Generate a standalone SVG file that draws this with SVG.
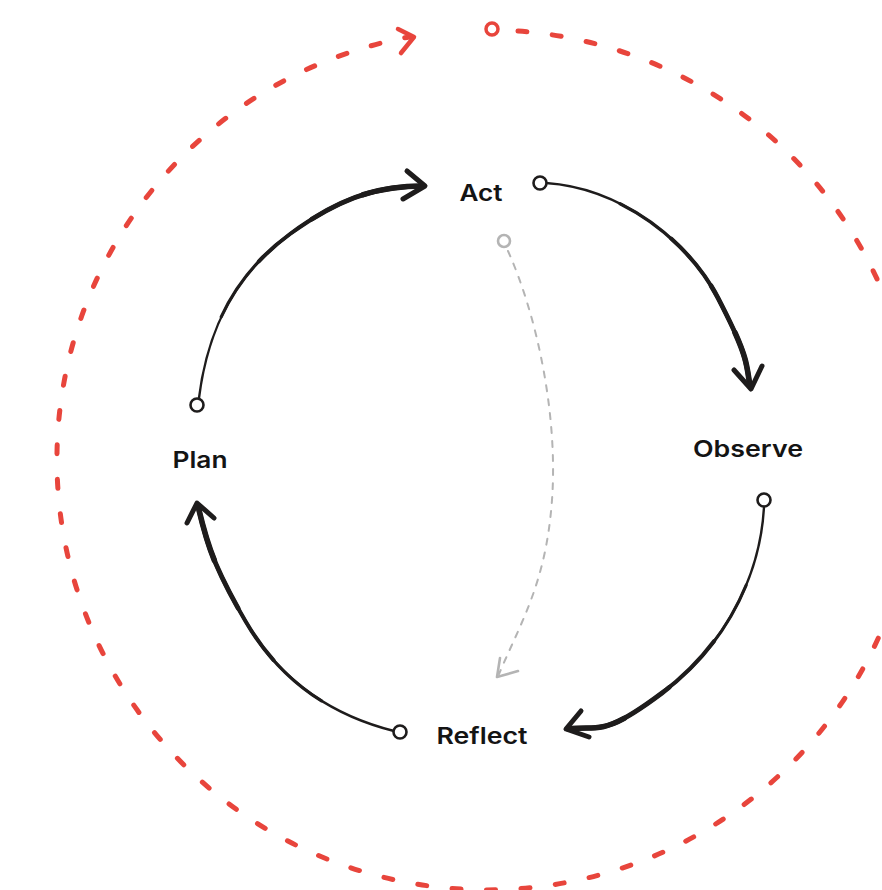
<svg xmlns="http://www.w3.org/2000/svg" xmlns:xlink="http://www.w3.org/1999/xlink" width="882" height="890" viewBox="0 0 882 890">
  <style>
    .label { font-family: Inter, "Open Sans", "Liberation Sans", sans-serif; font-weight: 600; font-size: 22.5px; fill: #141414; text-anchor: middle; }
    .ink { fill: none; stroke: #1e1c1c; stroke-linecap: round; stroke-linejoin: round; }
    .w1 { stroke-width: 2.4; }
    .w2 { stroke-width: 3.2; stroke-dasharray: 75 25; stroke-dashoffset: 75; }
    .w3 { stroke-width: 4; stroke-dasharray: 55 45; stroke-dashoffset: 55; }
    .w4 { stroke-width: 4.8; stroke-dasharray: 35 65; stroke-dashoffset: 35; }
    .w5 { stroke-width: 5.6; stroke-dasharray: 18 82; stroke-dashoffset: 18; }
    .head { fill: none; stroke: #1e1c1c; stroke-width: 5; stroke-linecap: round; stroke-linejoin: round; }
    .port { fill: #fff; stroke: #1e1c1c; stroke-width: 2.6; }
    .loop { fill: none; stroke: #e8453c; stroke-width: 5; stroke-linecap: round; stroke-dasharray: 9 25.5; }
    .loop-head { fill: none; stroke: #e8453c; stroke-width: 4.5; stroke-linecap: round; stroke-linejoin: round; }
    .loop-port { fill: #fff; stroke: #e8453c; stroke-width: 3.5; }
    .skip { fill: none; stroke: #b4b4b4; stroke-width: 2; stroke-linecap: round; stroke-dasharray: 6 8; }
    .skip-head { fill: none; stroke: #b4b4b4; stroke-width: 2.6; stroke-linecap: round; stroke-linejoin: round; }
    .skip-port { fill: #fff; stroke: #b4b4b4; stroke-width: 2.6; }
  </style>
  <defs>
    <path id="plan-act" pathLength="100" d="M199,398 C208,325 238,272 290,234 S380,186 423,186"/>
    <path id="act-observe" pathLength="100" d="M546,183 C620,188 688,240 718,298 S746,362 750,386"/>
    <path id="observe-reflect" pathLength="100" d="M764,507 C760,580 722,648 662,693 S600,725 568,729"/>
    <path id="reflect-plan" pathLength="100" d="M394,731 C330,715 280,680 246,622 S206,540 198,506"/>
  </defs>

  <rect width="882" height="890" fill="#fff"/>

  <!-- outer iteration loop -->
  <g id="outer-loop">
    <path class="loop" d="M518,31 A430,430 0 1 1 409,37"/>
    <polyline class="loop-head" points="398,29 414,37 401,53"/>
    <circle class="loop-port" cx="492" cy="29" r="6"/>
  </g>

  <!-- connectors between the four stages -->
  <g id="connectors">
    <g id="edge-plan-act">
      <use href="#plan-act" class="ink w1"/>
      <use href="#plan-act" class="ink w2"/>
      <use href="#plan-act" class="ink w3"/>
      <use href="#plan-act" class="ink w4"/>
      <use href="#plan-act" class="ink w5"/>
      <polyline class="head" points="407,171 425,186 403,199"/>
      <circle class="port" cx="197" cy="405" r="6.5"/>
    </g>
    <g id="edge-act-observe">
      <use href="#act-observe" class="ink w1"/>
      <use href="#act-observe" class="ink w2"/>
      <use href="#act-observe" class="ink w3"/>
      <use href="#act-observe" class="ink w4"/>
      <use href="#act-observe" class="ink w5"/>
      <polyline class="head" points="734,370 751,389 762,366"/>
      <circle class="port" cx="540" cy="183" r="6.5"/>
    </g>
    <g id="edge-observe-reflect">
      <use href="#observe-reflect" class="ink w1"/>
      <use href="#observe-reflect" class="ink w2"/>
      <use href="#observe-reflect" class="ink w3"/>
      <use href="#observe-reflect" class="ink w4"/>
      <use href="#observe-reflect" class="ink w5"/>
      <polyline class="head" points="581,711 566,729 589,737"/>
      <circle class="port" cx="764" cy="500" r="6.5"/>
    </g>
    <g id="edge-reflect-plan">
      <use href="#reflect-plan" class="ink w1"/>
      <use href="#reflect-plan" class="ink w2"/>
      <use href="#reflect-plan" class="ink w3"/>
      <use href="#reflect-plan" class="ink w4"/>
      <use href="#reflect-plan" class="ink w5"/>
      <polyline class="head" points="187,523 197,503 214,518"/>
      <circle class="port" cx="400" cy="732" r="6.5"/>
    </g>
    <g id="edge-act-reflect">
      <path class="skip" d="M508,251 C538,318 558,418 552,500 S522,620 499,674"/>
      <polyline class="skip-head" points="500,658 497,677 518,671"/>
      <circle class="skip-port" cx="504" cy="241" r="6"/>
    </g>
  </g>

  <!-- stage labels -->
  <g id="act"><text class="label" x="481" y="201" textLength="43" lengthAdjust="spacingAndGlyphs">Act</text></g>
  <g id="observe"><text class="label" x="748" y="457" textLength="110" lengthAdjust="spacingAndGlyphs">Observe</text></g>
  <g id="reflect"><text class="label" x="482" y="744" textLength="91" lengthAdjust="spacingAndGlyphs">Reflect</text></g>
  <g id="plan"><text class="label" x="200" y="468" textLength="55" lengthAdjust="spacingAndGlyphs">Plan</text></g>
</svg>
